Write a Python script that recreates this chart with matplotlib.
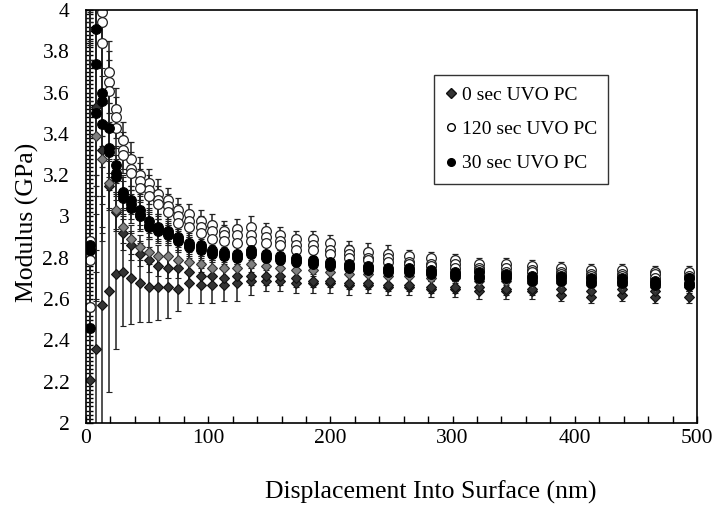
import numpy as np
import matplotlib
matplotlib.use('Agg')
import matplotlib.pyplot as plt
from matplotlib.lines import Line2D
from matplotlib.ticker import MultipleLocator

plt.rcParams['font.family'] = ['Liberation Serif', 'DejaVu Serif']

# displacement positions (nm)
depth = [3, 8, 13, 19, 24.5, 30.5, 37, 44, 51.5, 59, 67, 75.5, 84, 94, 103, 113,
         123.5, 135, 147, 159, 172, 186, 200, 215, 231, 247, 264.5, 282.5, 302,
         322, 343.5, 365, 388.5, 413, 439, 466, 493.5]

# 120 sec UVO PC (open circles), three samples
o1 = [2.88, 4.20, 3.99, 3.70, 3.52, 3.37, 3.28, 3.20, 3.16, 3.11, 3.08, 3.03, 3.01, 2.98, 2.96, 2.93,
      2.94, 2.95, 2.93, 2.91, 2.89, 2.89, 2.87, 2.84, 2.83, 2.82, 2.81, 2.80, 2.79,
      2.77, 2.77, 2.76, 2.75, 2.74, 2.74, 2.73, 2.73]
o2 = [2.79, 4.15, 3.94, 3.65, 3.48, 3.32, 3.23, 3.17, 3.13, 3.08, 3.05, 3.00, 2.98, 2.95, 2.93, 2.91,
      2.91, 2.91, 2.90, 2.88, 2.86, 2.86, 2.84, 2.82, 2.80, 2.80, 2.78, 2.77, 2.77,
      2.75, 2.75, 2.74, 2.73, 2.72, 2.72, 2.72, 2.71]
o3 = [2.56, 4.10, 3.84, 3.61, 3.43, 3.30, 3.21, 3.14, 3.10, 3.06, 3.02, 2.97, 2.95, 2.92, 2.89, 2.88,
      2.87, 2.88, 2.87, 2.86, 2.84, 2.84, 2.82, 2.80, 2.79, 2.78, 2.77, 2.76, 2.75,
      2.74, 2.73, 2.73, 2.72, 2.71, 2.71, 2.70, 2.70]
o_err = [1.20, 1.00, 0.60, 0.15, 0.10, 0.09, 0.08, 0.09, 0.07, 0.07, 0.06, 0.06, 0.05, 0.05, 0.05, 0.05,
         0.05, 0.05, 0.04, 0.04, 0.04, 0.04, 0.04, 0.04, 0.04, 0.04, 0.03, 0.03, 0.03,
         0.03, 0.03, 0.03, 0.03, 0.03, 0.03, 0.03, 0.03]

# 30 sec UVO PC (filled circles), three samples
b1 = [2.86, 3.91, 3.60, 3.43, 3.25, 3.11, 3.08, 3.03, 2.98, 2.95, 2.93, 2.90, 2.87, 2.86, 2.84, 2.83,
      2.82, 2.84, 2.82, 2.81, 2.80, 2.79, 2.78, 2.77, 2.76, 2.75, 2.75, 2.74, 2.73,
      2.73, 2.72, 2.71, 2.71, 2.70, 2.70, 2.69, 2.70]
b2 = [2.46, 3.74, 3.56, 3.31, 3.19, 3.09, 3.04, 3.00, 2.95, 2.93, 2.91, 2.88, 2.85, 2.84, 2.82, 2.81,
      2.80, 2.82, 2.80, 2.79, 2.78, 2.77, 2.76, 2.75, 2.74, 2.73, 2.73, 2.72, 2.71,
      2.70, 2.70, 2.69, 2.69, 2.68, 2.68, 2.67, 2.67]
b3 = [2.84, 3.50, 3.45, 3.33, 3.21, 3.12, 3.06, 3.01, 2.96, 2.94, 2.92, 2.89, 2.86, 2.85, 2.83, 2.82,
      2.81, 2.83, 2.81, 2.80, 2.79, 2.78, 2.77, 2.76, 2.75, 2.74, 2.74, 2.73, 2.72,
      2.71, 2.71, 2.70, 2.70, 2.69, 2.69, 2.68, 2.68]
b_err = [1.10, 0.90, 0.50, 0.12, 0.09, 0.08, 0.07, 0.07, 0.06, 0.06, 0.05, 0.05, 0.05, 0.05, 0.04, 0.04,
         0.04, 0.04, 0.04, 0.04, 0.04, 0.03, 0.03, 0.03, 0.03, 0.03, 0.03, 0.03, 0.03,
         0.03, 0.03, 0.03, 0.03, 0.03, 0.03, 0.03, 0.03]

# 0 sec UVO PC (diamonds), three samples
g1 = [2.85, 3.39, 3.28, 3.16, 3.03, 2.95, 2.89, 2.85, 2.83, 2.81, 2.81, 2.79, 2.78, 2.77, 2.75, 2.75,
      2.75, 2.77, 2.76, 2.75, 2.74, 2.74, 2.73, 2.72, 2.72, 2.71, 2.71, 2.70, 2.70,
      2.69, 2.69, 2.68, 2.68, 2.67, 2.67, 2.66, 2.67]
d1 = [2.83, 3.53, 3.32, 3.15, 3.02, 2.92, 2.86, 2.82, 2.79, 2.76, 2.75, 2.75, 2.73, 2.71, 2.71, 2.70,
      2.71, 2.71, 2.71, 2.71, 2.70, 2.69, 2.69, 2.68, 2.68, 2.67, 2.67, 2.66, 2.66,
      2.66, 2.65, 2.65, 2.65, 2.64, 2.65, 2.64, 2.66]
d2 = [2.21, 2.36, 2.57, 2.64, 2.72, 2.73, 2.70, 2.68, 2.66, 2.66, 2.66, 2.65, 2.68, 2.67, 2.67, 2.67,
      2.68, 2.69, 2.69, 2.69, 2.68, 2.68, 2.68, 2.67, 2.67, 2.66, 2.66, 2.65, 2.65,
      2.64, 2.64, 2.64, 2.62, 2.61, 2.62, 2.61, 2.61]
g_err = [1.00, 0.80, 0.40, 0.12, 0.09, 0.08, 0.07, 0.06, 0.06, 0.05, 0.05, 0.05, 0.05, 0.04, 0.04, 0.04,
         0.04, 0.04, 0.04, 0.04, 0.04, 0.03, 0.03, 0.03, 0.03, 0.03, 0.03, 0.03, 0.03,
         0.03, 0.03, 0.03, 0.03, 0.03, 0.03, 0.03, 0.03]
d2_err = [2.00, 2.00, 1.50, 0.49, 0.36, 0.26, 0.22, 0.19, 0.17, 0.16, 0.15, 0.11, 0.10, 0.09, 0.09, 0.08,
          0.09, 0.07, 0.05, 0.05, 0.05, 0.05, 0.05, 0.05, 0.04, 0.04, 0.04, 0.04, 0.04,
          0.04, 0.04, 0.04, 0.03, 0.03, 0.03, 0.03, 0.03]

labels = ['0 sec UVO PC', '120 sec UVO PC', '30 sec UVO PC']

fig = plt.figure(figsize=(7.13, 5.05), dpi=100)
ax = fig.add_axes([0.1206, 0.1624, 0.857, 0.8178])

eb = dict(ecolor='#222222', elinewidth=1.1, capsize=2.5, capthick=1.1, linestyle='none')

for y, e in [(d2, d2_err), (d1, g_err)]:
    ax.errorbar(depth, y, yerr=e, marker='D', ms=5.5, mfc='#333333', mec='#111111', mew=0.8, **eb)
ax.errorbar(depth, g1, yerr=g_err, marker='D', ms=5.5, mfc='#808080', mec='#333333', mew=0.8, **eb)
for y in [o1, o2, o3]:
    ax.errorbar(depth, y, yerr=o_err, marker='o', ms=7, mfc='white', mec='#222222', mew=0.9, **eb)
for y in [b1, b2, b3]:
    ax.errorbar(depth, y, yerr=b_err, marker='o', ms=7, mfc='black', mec='black', mew=0.8, **eb)

ax.set_xlim(0, 500)
ax.set_ylim(2, 4)
ax.xaxis.set_major_locator(MultipleLocator(100))
ax.xaxis.set_minor_locator(MultipleLocator(20))
ax.yaxis.set_major_locator(MultipleLocator(0.2))
ax.yaxis.set_minor_locator(MultipleLocator(0.02))
ax.tick_params(axis='both', which='both', direction='in', length=5, width=1, labelsize=15.5)
ax.tick_params(axis='x', pad=4)
ax.tick_params(axis='y', pad=12)
ax.yaxis.set_major_formatter(plt.FuncFormatter(lambda v, p: f'{v:g}'))
for s in ax.spines.values():
    s.set_linewidth(1.2)

ax.set_xlabel('Displacement Into Surface (nm)', fontsize=18.5)
ax.set_ylabel('Modulus (GPa)', fontsize=18.5)
ax.xaxis.set_label_coords(0.565, -0.140)
ax.yaxis.set_label_coords(-0.077, 0.485)

handles = [
    Line2D([], [], marker='D', ls='none', ms=5, mfc='#333333', mec='#111111'),
    Line2D([], [], marker='o', ls='none', ms=5.5, mfc='white', mec='black'),
    Line2D([], [], marker='o', ls='none', ms=5.5, mfc='black', mec='black'),
]
leg = ax.legend(handles, labels, loc='upper left', bbox_to_anchor=(0.570, 0.843),
                fontsize=14, frameon=True, fancybox=False, edgecolor='black',
                handlelength=0.5, handletextpad=0.3, labelspacing=0.85,
                borderpad=0.6, borderaxespad=0)
leg.get_frame().set_linewidth(1.0)

fig.savefig('out.png', dpi=100)
